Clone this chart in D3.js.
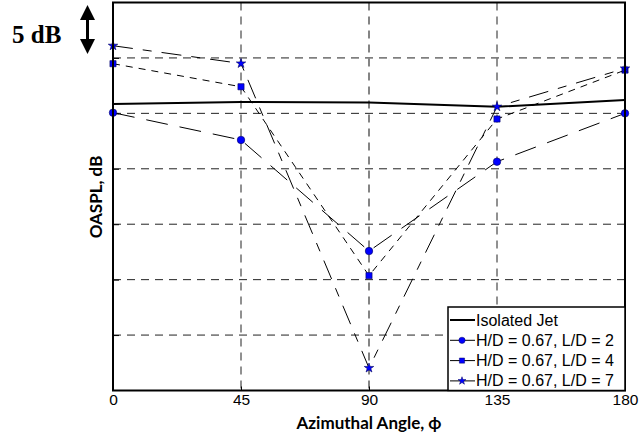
<!DOCTYPE html>
<html><head><meta charset="utf-8">
<script src="https://cdn.jsdelivr.net/npm/d3@7"></script>
<style>body{margin:0;background:#fff}svg{display:block}</style>
</head><body>
<svg id="c" width="639" height="438"></svg>
<script>
const angles = [0, 45, 90, 135, 180];
const xTickLabels = ["0", "45", "90", "135", "180"];
const yGrid = [5, 10, 15, 20, 25, 30];
const isolatedJet = [25.84, 26.02, 25.98, 25.6, 26.2];
const ld2 = [25.06, 22.6, 12.58, 20.64, 25.0];
const ld4 = [29.48, 27.4, 10.36, 24.49, 28.9];
const ld7 = [31.1, 29.5, 2.03, 25.6, 29.05];
const seriesNames = ["Isolated Jet", "H/D = 0.67, L/D = 2", "H/D = 0.67, L/D = 4", "H/D = 0.67, L/D = 7"];

const svg = d3.select("#c");
const L = 113, R = 625, T = 2.5, B = 390.5;
const x = d3.scaleLinear().domain([0, 180]).range([L, R]);
const y = d3.scaleLinear().domain([0, 35]).range([B, T]);

// gridlines
svg.append("g").selectAll("line").data(yGrid).join("line")
  .attr("x1", L).attr("x2", R).attr("y1", d => y(d)).attr("y2", d => y(d))
  .attr("stroke", "#222").attr("stroke-width", 1).attr("stroke-dasharray", "8,6");
svg.append("g").selectAll("line").data([45, 90, 135]).join("line")
  .attr("x1", d => x(d)).attr("x2", d => x(d)).attr("y1", T).attr("y2", B)
  .attr("stroke", d => d === 90 ? "#666" : "#222").attr("stroke-width", d => d === 90 ? 1.6 : 1).attr("stroke-dasharray", "8,6");

// axes
const xAxis = svg.append("g").attr("transform", `translate(0,${B})`)
  .call(d3.axisBottom(x).tickValues(angles).tickFormat((d, i) => xTickLabels[i]).tickSizeInner(-4).tickSizeOuter(0).tickPadding(3.5));
xAxis.select(".domain").remove();
xAxis.selectAll("text").attr("font-family", "Liberation Sans, Arial, sans-serif").attr("font-size", "15.5px").attr("fill", "#000");
const yAxis = svg.append("g").attr("transform", `translate(${L},0)`)
  .call(d3.axisLeft(y).tickValues(yGrid).tickFormat("").tickSizeInner(-6).tickSizeOuter(0));
yAxis.select(".domain").remove();

// series lines
const line = d3.line().x((d, i) => x(angles[i])).y(d => y(d));
const series = [
  {vals: isolatedJet, dash: null, w: 2, sym: null},
  {vals: ld2, dash: "22,12", w: 1, sym: d3.symbolCircle, size: 44},
  {vals: ld4, dash: "7,6", w: 1, sym: d3.symbolSquare, size: 38},
  {vals: ld7, dash: "20,10,9,10", w: 1, sym: d3.symbolStar, size: 28}
];
series.forEach(s => {
  svg.append("path").datum(s.vals).attr("d", line).attr("fill", "none")
    .attr("stroke", "#000").attr("stroke-width", s.w)
    .attr("stroke-dasharray", s.dash);
});
series.forEach(s => {
  if (!s.sym) return;
  svg.append("g").selectAll("path").data(s.vals).join("path")
    .attr("d", d3.symbol().type(s.sym).size(s.size))
    .attr("transform", (d, i) => `translate(${x(angles[i])},${y(d)})`)
    .attr("fill", "#0000ff").attr("stroke", "#000060").attr("stroke-width", 0.6);
});

// frame
svg.append("rect").attr("x", L).attr("y", T).attr("width", R - L).attr("height", B - T)
  .attr("fill", "none").attr("stroke", "#000").attr("stroke-width", 2);

// legend
const lg = svg.append("g");
lg.append("rect").attr("x", 448).attr("y", 307).attr("width", R - 448).attr("height", B - 307)
  .attr("fill", "#fff").attr("stroke", "#000").attr("stroke-width", 1.5);
seriesNames.forEach((name, i) => {
  const cy = 320 + i * 20.3;
  const s = series[i];
  lg.append("line").attr("x1", 450).attr("x2", 475).attr("y1", cy).attr("y2", cy)
    .attr("stroke", "#000").attr("stroke-width", s.w);
  if (s.sym) lg.append("path").attr("d", d3.symbol().type(s.sym).size(s.size * 0.7)())
    .attr("transform", `translate(462,${cy})`).attr("fill", "#0000ff").attr("stroke", "#000060").attr("stroke-width", 0.5);
  lg.append("text").attr("x", 476).attr("y", cy + 5.5).text(name)
    .attr("font-family", "Liberation Sans, Arial, sans-serif").attr("font-size", "16px").attr("fill", "#000");
});

// axis titles
svg.append("text").attr("x", (L + R) / 2).attr("y", 429).attr("text-anchor", "middle")
  .attr("font-family", "Lato, sans-serif").attr("font-weight", "bold").attr("font-size", "17px")
  .text("Azimuthal Angle, ϕ");
svg.append("text").attr("transform", `translate(102,197) rotate(-90)`).attr("text-anchor", "middle")
  .attr("font-family", "Lato, sans-serif").attr("font-weight", "bold").attr("font-size", "17px")
  .text("OASPL, dB");

// 5 dB scale annotation
svg.append("text").attr("x", 12).attr("y", 43).text("5 dB")
  .attr("font-family", "Liberation Serif, Times New Roman, serif").attr("font-weight", "bold").attr("font-size", "25px");
const ax = 87.5, aTop = 5, aBot = 54;
svg.append("line").attr("x1", ax).attr("x2", ax).attr("y1", aTop + 10).attr("y2", aBot - 10)
  .attr("stroke", "#000").attr("stroke-width", 3);
svg.append("path").attr("d", `M${ax},${aTop} L${ax - 7.5},${aTop + 15} L${ax + 7.5},${aTop + 15} Z`).attr("fill", "#000");
svg.append("path").attr("d", `M${ax},${aBot} L${ax - 7.5},${aBot - 15} L${ax + 7.5},${aBot - 15} Z`).attr("fill", "#000");
</script>
</body></html>
